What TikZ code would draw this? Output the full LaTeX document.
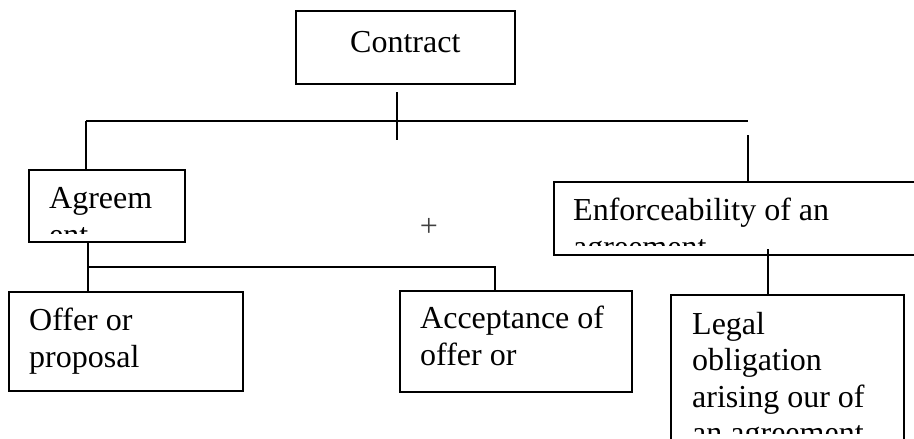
\documentclass[tikz,border=0pt]{standalone}
\usepackage{fontspec}
\setmainfont{Liberation Serif}
\begin{document}
\begin{tikzpicture}[x=1pt, y=-1pt,
  box/.style={draw, rectangle, line width=1.7pt, inner sep=0pt, anchor=north west},
  txt/.style={anchor=base west, inner sep=0pt, font=\fontsize{32}{36.5}\selectfont},
  link/.style={line width=1.7pt}]
\useasboundingbox (0,0) rectangle (914,439);
\clip (0,0) rectangle (914,439);

% boxes
\node[box, minimum width=219pt, minimum height=73pt] (contract) at (295,10) {};
\node[box, minimum width=156pt, minimum height=72pt] (agree) at (28,169) {};
\node[box, minimum width=380pt, minimum height=73pt] (enforce) at (553,181) {};
\node[box, minimum width=234pt, minimum height=99pt] (offer) at (8,291) {};
\node[box, minimum width=232pt, minimum height=101pt] (accept) at (399,290) {};
\node[box, minimum width=233pt, minimum height=170pt] (legal) at (670,294) {};

% connector end points
\coordinate (stemtop) at (397,92);
\coordinate (stembot) at (397,140);
\coordinate (busL) at (86,121);
\coordinate (busR) at (748,121);
\coordinate (enftop) at (748,135);
\coordinate (agreetap) at (88,241);
\coordinate (subL) at (88,267);
\coordinate (subR) at (495,267);
\coordinate (enftap) at (768,249);

% connectors
\draw[link] (stemtop) -- (stembot);
\draw[link] (busL) -- (busR);
\draw[link] (busL) -- (busL |- agree.north);
\draw[link] (enftop) -- (enftop |- enforce.north);
\draw[link] (agreetap) -- (agreetap |- offer.north);
\draw[link] (subL) -- (subR) -- (subR |- accept.north);
\draw[link] (enftap) -- (enftap |- legal.north);

% texts (overflowing lines are clipped at the inner margin of their box)
\node[txt] (tcontract) at (350,52) {Contract};

\begin{scope}
  \clip (28,169) rectangle (184,233);
  \node[txt] (tagree1) at (49,208) {Agreem};
  \node[txt] (tagree2) at (49,245) {ent};
\end{scope}

\begin{scope}
  \clip (553,181) rectangle (914,245);
  \node[txt] (tenf1) at (573,220) {Enforceability of an};
  \node[txt] (tenf2) at (573,257) {agreement};
\end{scope}

\node[txt] (toffer1) at (29,330) {Offer or};
\node[txt] (toffer2) at (29,367) {proposal};

\node[txt] (tacc1) at (420,328) {Acceptance of};
\node[txt] (tacc2) at (420,365) {offer or};

\begin{scope}
  \clip (670,294) rectangle (903,433);
  \node[txt] (tlegal1) at (692,334) {Legal};
  \node[txt] (tlegal2) at (692,370) {obligation};
  \node[txt] (tlegal3) at (692,407) {arising our of};
  \node[txt] (tlegal4) at (692,443) {an agreement};
\end{scope}

\node[inner sep=0pt, text=black!75, font=\fontsize{32}{36.5}\selectfont] (plus) at (429,227) {+};
\end{tikzpicture}
\end{document}
